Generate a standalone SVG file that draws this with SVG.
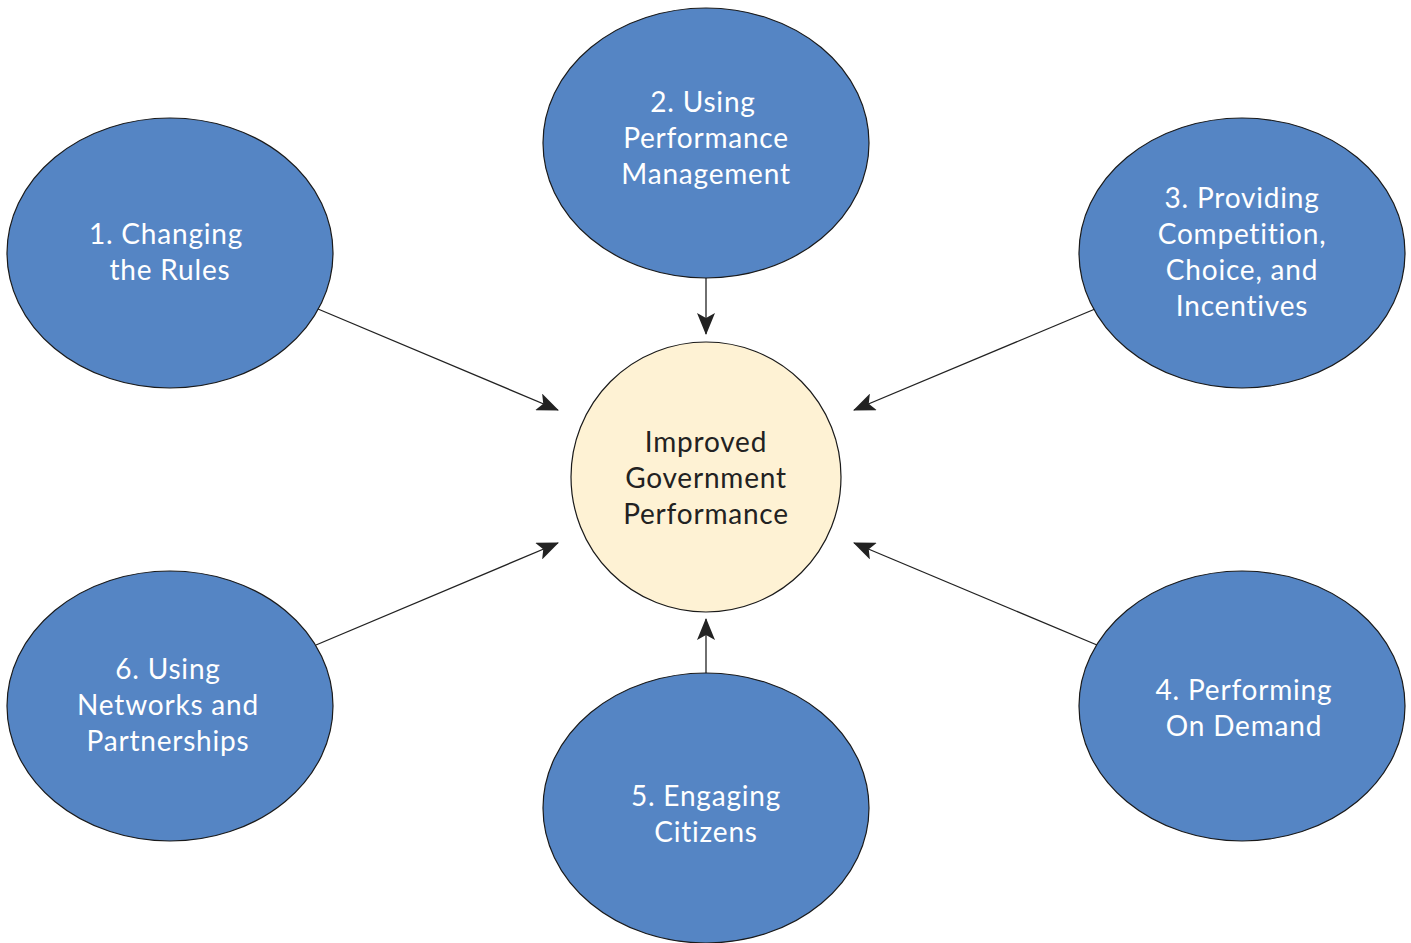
<svg xmlns="http://www.w3.org/2000/svg" width="1411" height="943" viewBox="0 0 1411 943">
<style>
.n{fill:#5585c4;stroke:#1a1a1a;stroke-width:1.2}
.c{fill:#fef2d4;stroke:#1a1a1a;stroke-width:1.2}
.t{font-family:Lato,"Open Sans","Liberation Sans",sans-serif;font-size:28px;text-anchor:middle;letter-spacing:0.8px}
.w{fill:#ffffff}
.d{fill:#222222}
.e{stroke:#222222;stroke-width:1.3;fill:none;marker-end:url(#ah)}
</style>
<defs>
<marker id="ah" viewBox="0 0 22 18" refX="21" refY="9" markerWidth="22" markerHeight="18" markerUnits="userSpaceOnUse" orient="auto">
<path d="M0,0 L22,9 L0,18 L5,9 Z" fill="#222222"/>
</marker>
</defs>
<rect width="1411" height="943" fill="#ffffff"/>
<g id="connectors">
<line class="e" x1="318" y1="309" x2="558" y2="410"/>
<line class="e" x1="706" y1="278" x2="706" y2="334"/>
<line class="e" x1="1095" y1="309" x2="854" y2="410"/>
<line class="e" x1="1097" y1="645" x2="854" y2="543"/>
<line class="e" x1="706" y1="673" x2="706" y2="619"/>
<line class="e" x1="316" y1="645" x2="558" y2="543"/>
</g>
<g id="center">
<circle class="c" cx="706" cy="477" r="135"/>
<text class="t d" x="706" y="452">Improved</text>
<text class="t d" x="706" y="488">Government</text>
<text class="t d" x="706" y="524">Performance</text>
</g>
<g id="node1">
<ellipse class="n" cx="170" cy="253" rx="163" ry="135"/>
<text class="t w" x="166" y="244">1. Changing</text>
<text class="t w" x="170" y="280">the Rules</text>
</g>
<g id="node2">
<ellipse class="n" cx="706" cy="143" rx="163" ry="135"/>
<text class="t w" x="703" y="112">2. Using</text>
<text class="t w" x="706" y="148">Performance</text>
<text class="t w" x="706" y="184">Management</text>
</g>
<g id="node3">
<ellipse class="n" cx="1242" cy="253" rx="163" ry="135"/>
<text class="t w" x="1242" y="208">3. Providing</text>
<text class="t w" x="1242" y="244">Competition,</text>
<text class="t w" x="1242" y="280">Choice, and</text>
<text class="t w" x="1242" y="316">Incentives</text>
</g>
<g id="node4">
<ellipse class="n" cx="1242" cy="706" rx="163" ry="135"/>
<text class="t w" x="1244" y="700">4. Performing</text>
<text class="t w" x="1244" y="736">On Demand</text>
</g>
<g id="node5">
<ellipse class="n" cx="706" cy="808" rx="163" ry="135"/>
<text class="t w" x="706" y="806">5. Engaging</text>
<text class="t w" x="706" y="842">Citizens</text>
</g>
<g id="node6">
<ellipse class="n" cx="170" cy="706" rx="163" ry="135"/>
<text class="t w" x="168" y="679">6. Using</text>
<text class="t w" x="168" y="715">Networks and</text>
<text class="t w" x="168" y="751">Partnerships</text>
</g>
</svg>
